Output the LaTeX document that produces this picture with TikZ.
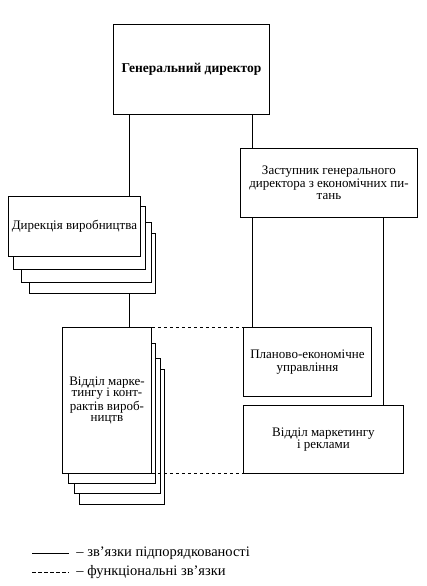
\documentclass[tikz,border=0pt]{standalone}
\usepackage{fontspec}
\setmainfont{Liberation Serif}
\begin{document}
\begin{tikzpicture}[x=1pt, y=-1pt, line width=0.9pt,
    every node/.style={font=\fontsize{13}{12.5}\selectfont},
    unit/.style={draw, fill=white, align=center, inner sep=2pt, anchor=north west},
    sheet/.style={draw, fill=white, inner sep=0pt, outer sep=0pt, anchor=north west},
    func/.style={dash pattern=on 3.5pt off 2.5pt}]
\useasboundingbox (0,0) rectangle (426,586);
% top level
\node[unit, minimum width=156, minimum height=90, font=\fontsize{13.5}{13}\selectfont\bfseries] (gd) at (113,24) {Генеральний директор};
\node[unit, minimum width=177, minimum height=69] (zast) at (240,148) {Заступник генерального\\директора з економічних пи-\\тань};
% stacked units
\foreach \n/\x/\y/\w/\h in {3/29/233/126/60, 2/21/222/130/60, 1/13/206/132/63}
    \node[sheet, minimum width=\w, minimum height=\h] (dyr\n) at (\x,\y) {};
\node[unit, minimum width=132, minimum height=60] (dyr) at (8,196) {Дирекція виробництва};
\foreach \n/\x/\y/\w/\h in {3/79/369/85/135, 2/74/358/86/135, 1/68/343/87/140}
    \node[sheet, minimum width=\w, minimum height=\h] (vid\n) at (\x,\y) {};
\node[unit, minimum width=89, minimum height=146, font=\fontsize{13}{11.5}\selectfont] (vid) at (62,327) {Відділ марке-\\тингу і конт-\\рактів вироб-\\ництв};
% economic units
\node[unit, minimum width=128, minimum height=69] (plan) at (243,327) {Планово-економічне\\управління};
\node[unit, minimum width=160, minimum height=68] (rek) at (243,405) {Відділ маркетингу\\і реклами};
% subordination
\coordinate (lx) at (129,0);
\coordinate (rx) at (252,0);
\coordinate (ex) at (383,0);
\draw (lx |- gd.south) -- (lx |- dyr.north);
\draw (lx |- dyr3.south) -- (lx |- vid.north);
\draw (rx |- gd.south) -- (rx |- zast.north);
\draw (rx |- zast.south) -- (rx |- plan.north);
\draw (ex |- zast.south) -- (ex |- rek.north);
% functional
\draw[func] (vid.north east) -- (plan.north west);
\draw[func] (vid.south east) -- (rek.south west);
% legend
\coordinate (s1) at (32,553);
\coordinate (s2) at (69,553);
\coordinate (f1) at (32,572);
\coordinate (f2) at (69,572);
\draw (s1) -- (s2);
\draw[func] (f1) -- (f2);
\node[anchor=west, inner sep=0pt, font=\fontsize{14.5}{14}\selectfont] (lgs) at (76,553) {– зв’язки підпорядкованості};
\node[anchor=west, inner sep=0pt, font=\fontsize{14.5}{14}\selectfont] (lgf) at (76,572) {– функціональні зв’язки};
\end{tikzpicture}
\end{document}
